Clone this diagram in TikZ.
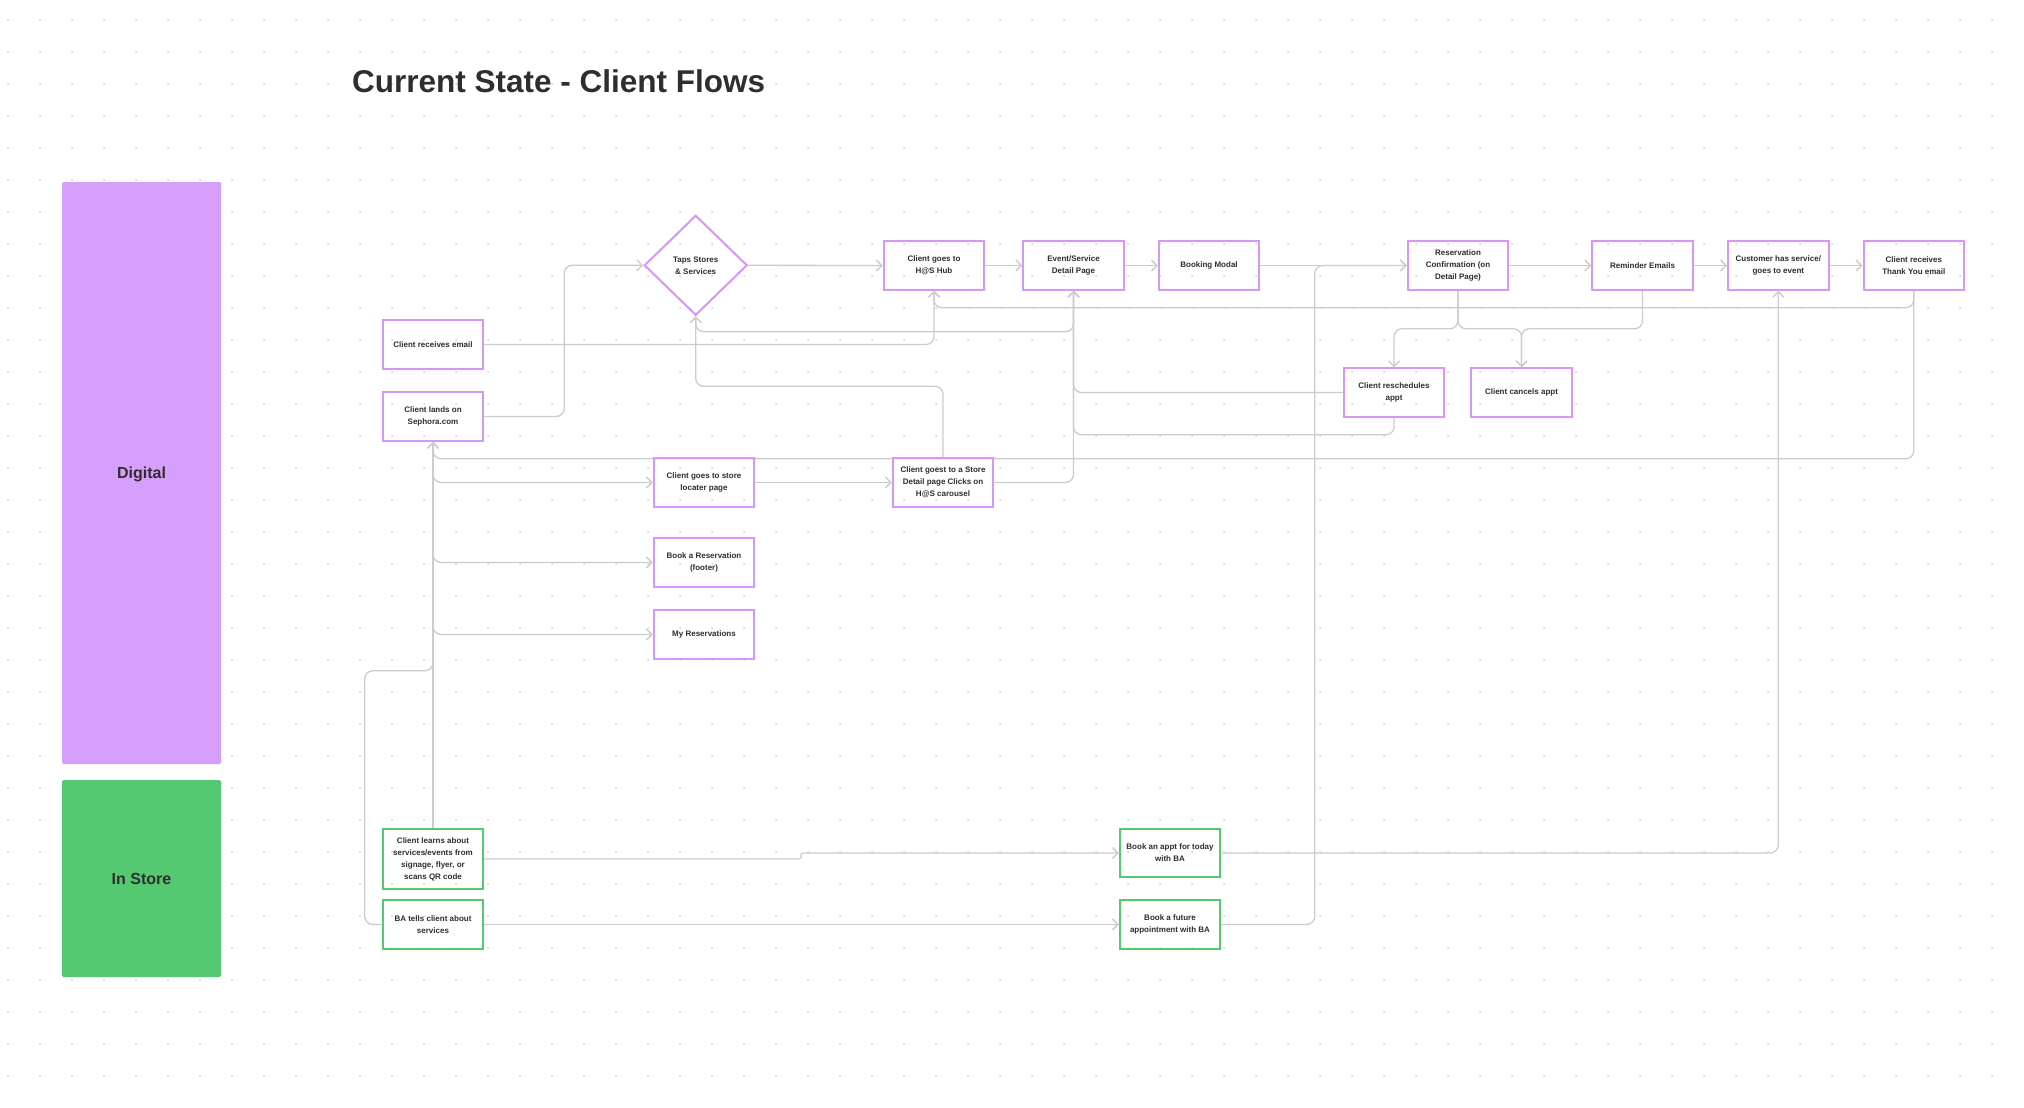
\documentclass[tikz,border=0pt]{standalone}
\usepackage{fontspec}
\setmainfont{Liberation Sans}
\usetikzlibrary{arrows.meta,shapes.geometric,calc}
\definecolor{lanepurple}{HTML}{D69FFB}
\definecolor{lanegreen}{HTML}{55C972}
\definecolor{boxpurple}{HTML}{D597F8}
\definecolor{boxgreen}{HTML}{55C970}
\definecolor{linegray}{HTML}{CCCCCC}
\definecolor{dotgray}{HTML}{CFCFCF}
\definecolor{ink}{HTML}{2E2E2E}
\pgfdeclarelayer{bg}
\pgfsetlayers{bg,main}
\begin{document}
\begin{tikzpicture}[x=1pt,y=-1pt,
  boxtext/.style={text=ink,align=center,font=\fontsize{8}{12}\selectfont\bfseries},
  box/.style={boxtext,draw=boxpurple,line width=2pt,minimum width=100.5pt,minimum height=48.5pt,inner sep=0pt},
  gbox/.style={box,draw=boxgreen},
  conn/.style={draw=linegray,line width=1.3pt,rounded corners=8pt,-{Straight Barb[length=5.5pt,width=11pt]}},
  lanebox/.style={inner sep=0pt,minimum width=159pt,rounded corners=1.5pt,text=ink,text depth=0pt,font=\fontsize{16}{19}\selectfont\bfseries},
]
\useasboundingbox (0,0) rectangle (2024,1108);
\begin{pgfonlayer}{bg}
\fill[white] (0,0) rectangle (2024,1108);
\foreach \i in {0,...,62}{\foreach \j in {0,...,33}{\fill[dotgray] (8+32*\i,20+32*\j) circle (1pt);}}
\end{pgfonlayer}

% title
\node[anchor=base west,inner sep=0pt,text=ink,font=\fontsize{31.5}{36}\selectfont\bfseries] (title) at (352,92.5) {Current State - Client Flows};

% lanes
\node[lanebox,fill=lanepurple,minimum height=582pt] (digital) at (141.5,473) {Digital};
\node[lanebox,fill=lanegreen,minimum height=197pt] (instore) at (141.5,878.5) {In Store};

% nodes
\node[box] (email) at (433,344.5) {Client receives email};
\node[box] (lands) at (433,416.5) {Client lands on\\Sephora.com};
\node[boxtext,draw=boxpurple,line width=2pt,diamond,minimum width=103pt,minimum height=100pt,inner sep=0pt] (taps) at (695.7,265.3) {Taps Stores\\\& Services};
\node[box] (hub) at (934,265.5) {Client goes to\\H@S Hub};
\node[box] (event) at (1073.5,265.5) {Event/Service\\Detail Page};
\node[box] (booking) at (1209,265.5) {Booking Modal};
\node[box] (resconf) at (1458,265.5) {Reservation\\Confirmation (on\\Detail Page)};
\node[box] (reminder) at (1642.5,265.5) {Reminder Emails};
\node[box] (customer) at (1778.3,265.5) {Customer has service/\\goes to event};
\node[box] (thanks) at (1913.8,265.5) {Client receives\\Thank You email};
\node[box] (resched) at (1394,392.5) {Client reschedules\\appt};
\node[box] (cancel) at (1521.5,392.5) {Client cancels appt};
\node[box] (locater) at (704,482.5) {Client goes to store\\locater page};
\node[box] (storedet) at (943,482.5) {Client goest to a Store\\Detail page Clicks on\\H@S carousel};
\node[box] (bookres) at (704,562.5) {Book a Reservation\\(footer)};
\node[box] (myres) at (704,634.5) {My Reservations};
\node[gbox,minimum height=60.5pt] (learns) at (433,859) {Client learns about\\services/events from\\signage, flyer, or\\scans QR code};
\node[gbox] (batells) at (433,924.5) {BA tells client about\\services};
\node[gbox] (today) at (1170,853) {Book an appt for today\\with BA};
\node[gbox] (future) at (1170,924.5) {Book a future\\appointment with BA};

% connectors
\begin{pgfonlayer}{bg}
\draw[conn] (lands.east) -- ++(80,0) |- (taps.west);
\draw[conn] (email.east) -| (hub.south);
\draw[conn] (taps.east) -- (hub.west);
\draw[conn] (hub.east) -- (event.west);
\draw[conn] (event.east) -- (booking.west);
\draw[conn] (booking.east) -- (resconf.west);
\draw[conn] (resconf.east) -- (reminder.west);
\draw[conn] (reminder.east) -- (customer.west);
\draw[conn] (customer.east) -- (thanks.west);
\draw[conn] (thanks.south) -- ++(0,17) -| (hub.south);
\draw[conn] (event.south) -- ++(0,41) -| (taps.south);
\draw[conn] (storedet.north) -- ++(0,-71) -| (taps.south);
\draw[conn] (storedet.east) -| (event.south);
\draw[conn] (resched.west) -| (event.south);
\draw[conn] (resched.south) -- ++(0,17) -| (event.south);
\draw[conn] (resconf.south) -- ++(0,38) -| (resched.north);
\draw[conn] (resconf.south) -- ++(0,38) -| (cancel.north);
\draw[conn] (reminder.south) -- ++(0,38) -| (cancel.north);
\draw[conn] (thanks.south) -- ++(0,168) -| (lands.south);
\draw[conn] (lands.south) |- (locater.west);
\draw[conn] (lands.south) |- (bookres.west);
\draw[conn] (lands.south) |- (myres.west);
\draw[conn] (locater.east) -- (storedet.west);
\draw[conn] (learns.north) -- (lands.south);
\draw[conn] (batells.west) -- ++(-17,0) |- ($(lands.south)+(0,229)$) -- (lands.south);
\draw[conn,rounded corners=2pt] (learns.east) -| (801,853) -- (today.west);
\draw[conn] (batells.east) -- (future.west);
\draw[conn] (future.east) -| ($(resconf.west)+(-92,0)$) -- (resconf.west);
\draw[conn] (today.east) -| (customer.south);
\end{pgfonlayer}
\end{tikzpicture}
\end{document}
